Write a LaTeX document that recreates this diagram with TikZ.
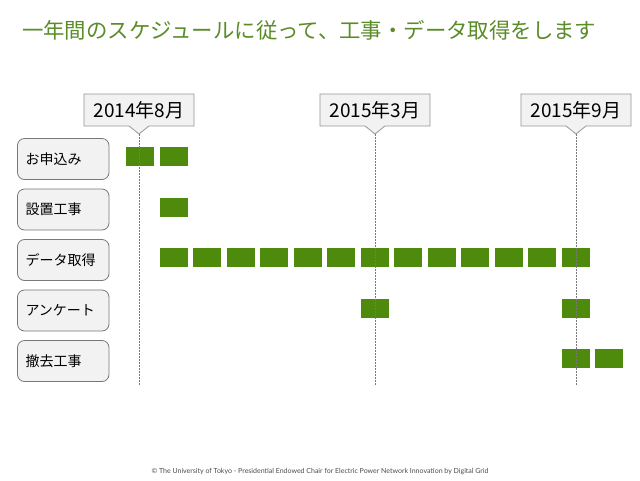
\documentclass[tikz,border=0pt]{standalone}
\usepackage{fontspec}
\setmainfont{Noto Sans CJK JP}
\newfontfamily\footfont{Lato}
\usetikzlibrary{backgrounds}
\definecolor{barg}{RGB}{78,138,11}
\definecolor{titleg}{RGB}{90,140,40}
\definecolor{boxfill}{RGB}{242,242,242}
\definecolor{boxline}{RGB}{120,120,120}
\definecolor{callline}{RGB}{150,150,150}
\definecolor{guide}{RGB}{120,120,120}
\tikzset{
  bar/.style={fill=barg, draw=none, minimum width=28pt, minimum height=19pt, inner sep=0pt},
  label box/.style={fill=boxfill, draw=boxline, line width=0.8pt, rounded corners=7pt,
    minimum width=91.5pt, minimum height=41pt, inner xsep=8pt, text width=75.5pt, align=left,
    font=\fontsize{14}{16}\selectfont},
  callout text/.style={inner xsep=9.5pt, minimum height=31.5pt, inner ysep=0pt,
    font=\fontsize{19}{21}\selectfont},
  callout shape/.style={fill=boxfill, draw=callline, line width=0.8pt},
  guideline/.style={draw=guide, line width=0.7pt, dash pattern=on 1.5pt off 1.5pt},
}
\begin{document}
\begin{tikzpicture}[x=1pt, y=-1pt]
\useasboundingbox (0,0) rectangle (640,480);
% title
\node[anchor=west, inner sep=0pt, text=titleg, font=\fontsize{21.4}{24}\selectfont] (title) at (22,30) {一年間のスケジュールに従って、工事・データ取得をします};
% callouts
\node[callout text] (c1) at (139,110) {2014年8月};
\node[callout text] (c2) at (375,110) {2015年3月};
\node[callout text] (c3) at (576,110) {2015年9月};
\coordinate (t1) at (139,134);
\coordinate (t2) at (375,134);
\coordinate (t3) at (576,134);
\coordinate (e1) at (139,386);
\coordinate (e2) at (375,386);
\coordinate (e3) at (576,386);
\begin{scope}[on background layer]
\fill[white] (0,0) rectangle (640,480);
\foreach \c/\t in {c1/t1, c2/t2, c3/t3}{
  \draw[callout shape] (\c.north west) -- (\c.north east) -- (\c.south east)
     -- ([xshift=10pt]\c.south) -- (\t) -- ([xshift=-10pt]\c.south) -- (\c.south west) -- cycle;
}
\end{scope}
% labels
\node[label box] (l1) at (63.25,159) {お申込み};
\node[label box] (l2) at (63.25,209.5) {設置工事};
\node[label box] (l3) at (63.25,260) {データ取得};
\node[label box] (l4) at (63.25,310.5) {アンケート};
\node[label box] (l5) at (63.25,361) {撤去工事};
% bars
\foreach \i in {0,1}{ \node[bar] (a\i) at ({140+33.5*\i},156.5) {}; }
\node[bar] (b1) at ({140+33.5*1},207) {};
\foreach \i in {1,...,13}{ \node[bar] (d\i) at ({140+33.5*\i},257.5) {}; }
\foreach \i in {7,13}{ \node[bar] (q\i) at ({140+33.5*\i},308) {}; }
\foreach \i in {13,14}{ \node[bar] (r\i) at ({140+33.5*\i},358.5) {}; }
% guide lines
\draw[guideline] (t1) -- (e1);
\draw[guideline] (t2) -- (e2);
\draw[guideline] (t3) -- (e3);
% footer
\node[inner sep=0pt, text=black!70, font=\footfont\fontsize{7}{8}\selectfont] (foot) at (320,472) {© The University of Tokyo - Presidential Endowed Chair for Electric Power Network Innovation by Digital Grid};
\end{tikzpicture}
\end{document}
